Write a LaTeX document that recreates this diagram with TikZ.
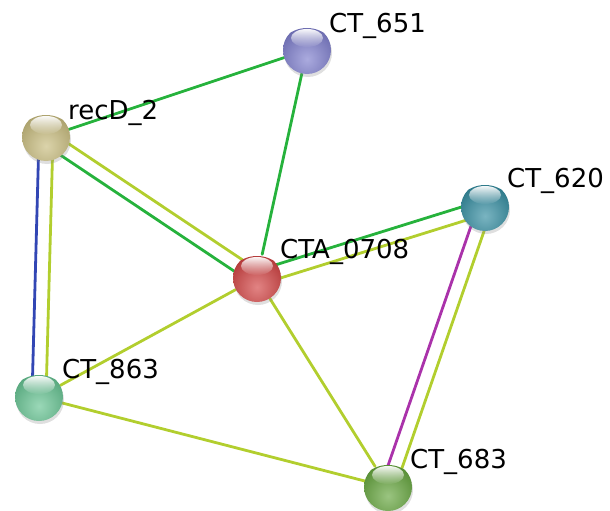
\documentclass[tikz,border=0pt]{standalone}
\usepackage{fontspec}
\setmainfont{DejaVu Sans}
\usetikzlibrary{calc,backgrounds,fadings,shadows}
\definecolor{egreen}{RGB}{38,178,60}
\definecolor{eyellow}{RGB}{178,206,46}
\definecolor{eblue}{RGB}{50,70,180}
\definecolor{emagenta}{RGB}{170,50,170}
\definecolor{cpurple}{RGB}{125,125,205}
\definecolor{ckhaki}{RGB}{200,188,125}
\definecolor{cteal}{RGB}{50,140,160}
\definecolor{cred}{RGB}{210,65,65}
\definecolor{cmint}{RGB}{100,195,145}
\definecolor{cgreen}{RGB}{100,165,60}
\tikzfading[name=hlfade, top color=transparent!5, bottom color=transparent!100]
\tikzset{
  edge/.style={line width=2.8pt, line cap=round},
  lbl/.style={anchor=base west, inner sep=0pt, font=\fontsize{26}{30}\selectfont},
  ball/.style={circle, minimum size=48pt, inner sep=0pt,
    drop shadow={shadow xshift=1pt, shadow yshift=-3pt, opacity=0.25},
    path picture={
      \shade[inner color=#1!65!white, outer color=#1!85!black]
        ($(path picture bounding box.center)+(0,10)$) circle (32pt);
      \fill[white, path fading=hlfade]
        ($(path picture bounding box.center)+(0,-12)$) ellipse (16pt and 9pt);
    }},
}
\newcommand{\dedge}[4]{%
  \draw[edge,#3] ($(#1)!7pt!90:(#2)$) -- ($(#2)!7pt!-90:(#1)$);
  \draw[edge,#4] ($(#1)!7pt!-90:(#2)$) -- ($(#2)!7pt!90:(#1)$);
}
\begin{document}
\begin{tikzpicture}[x=1pt,y=-1pt]
\useasboundingbox (0,0) rectangle (610,511);
\node[ball=cpurple] (n651) at (307,50) {};
\node[ball=ckhaki] (recD) at (46,137) {};
\node[ball=cteal] (n620) at (485,207) {};
\node[ball=cred] (cta) at (257,278) {};
\node[ball=cmint] (n863) at (39,397) {};
\node[ball=cgreen] (n683) at (388,487) {};
\node[lbl] (l651) at ($(n651)+(22,-17)$) {CT\_651};
\node[lbl] (lrecD) at ($(recD)+(22,-18)$) {recD\_2};
\node[lbl] (l620) at ($(n620)+(22,-20)$) {CT\_620};
\node[lbl] (lcta) at ($(cta)+(23,-20)$) {CTA\_0708};
\node[lbl] (l863) at ($(n863)+(23,-19)$) {CT\_863};
\node[lbl] (l683) at ($(n683)+(22,-19)$) {CT\_683};
\begin{pgfonlayer}{background}
\draw[edge,egreen] (recD) -- (n651);
\draw[edge,egreen] (n651) -- (cta);
\draw[edge,eyellow] (cta) -- (n863);
\draw[edge,eyellow] (cta) -- (n683);
\draw[edge,eyellow] (n863) -- (n683);
\dedge{recD}{n863}{eyellow}{eblue}
\dedge{recD}{cta}{eyellow}{egreen}
\dedge{cta}{n620}{egreen}{eyellow}
\dedge{n620}{n683}{eyellow}{emagenta}
\end{pgfonlayer}
\end{tikzpicture}
\end{document}
